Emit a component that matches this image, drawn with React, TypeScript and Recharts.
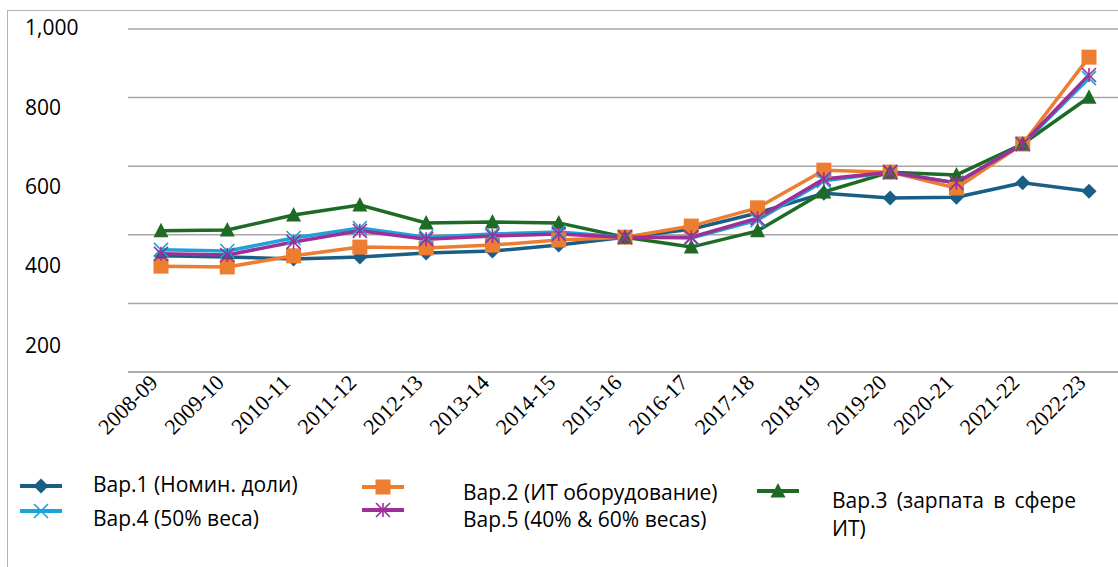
import { CartesianGrid, Line, LineChart, XAxis, YAxis } from "recharts";

const years = [
  "2008-09", "2009-10", "2010-11", "2011-12", "2012-13", "2013-14", "2014-15", "2015-16",
  "2016-17", "2017-18", "2018-19", "2019-20", "2020-21", "2021-22", "2022-23",
];
const var1 = [428, 425, 420, 425, 435, 440, 455, 475, 495, 536, 586, 574, 576, 612, 591];
const var2 = [402, 400, 428, 450, 448, 455, 468, 475, 503, 549, 644, 639, 599, 710, 929];
const var3 = [491, 493, 531, 556, 511, 513, 511, 475, 450, 491, 589, 639, 632, 710, 828];
const var4 = [443, 440, 473, 498, 475, 483, 488, 475, 473, 518, 617, 639, 612, 710, 876];
const var5 = [433, 430, 463, 491, 470, 478, 483, 475, 475, 523, 622, 639, 612, 710, 884];
const yTicks = [200, 400, 600, 800, 1000];
const gridValues = [135, 308, 481, 654, 827, 1000];

const C1 = "#1b5e85";
const C2 = "#ed7d31";
const C3 = "#1e6b25";
const C4 = "#1ca3da";
const C5 = "#9d2f97";

const rows = years.map((year, i) => ({
  year,
  v1: var1[i],
  v2: var2[i],
  v3: var3[i],
  v4: var4[i],
  v5: var5[i],
}));

const font = "'Open Sans', sans-serif";

function Diamond({ cx, cy }: any) {
  const r = 7.5;
  return <path d={`M${cx},${cy - r}L${cx + r},${cy}L${cx},${cy + r}L${cx - r},${cy}Z`} fill={C1} />;
}
function Square({ cx, cy }: any) {
  return <rect x={cx - 7.5} y={cy - 7.5} width={15} height={15} fill={C2} />;
}
function Triangle({ cx, cy }: any) {
  return <path d={`M${cx},${cy - 8}L${cx + 7.5},${cy + 6.5}L${cx - 7.5},${cy + 6.5}Z`} fill={C3} />;
}
function Cross({ cx, cy }: any) {
  const r = 7;
  return (
    <path d={`M${cx - r},${cy - r}L${cx + r},${cy + r}M${cx + r},${cy - r}L${cx - r},${cy + r}`} stroke={C4} strokeWidth={1.6} />
  );
}
function Star({ cx, cy }: any) {
  const r = 7;
  return (
    <path
      d={`M${cx - r},${cy - r}L${cx + r},${cy + r}M${cx + r},${cy - r}L${cx - r},${cy + r}M${cx},${cy - r}L${cx},${cy + r}`}
      stroke={C5}
      strokeWidth={1.6}
    />
  );
}

function YTick({ y, payload }: any) {
  return (
    <text x={25} y={y} dy="0.3em" style={{ fontFamily: font, fontSize: 21 }} fill="#000">
      {Number(payload.value).toLocaleString("en-US")}
    </text>
  );
}

function XTick({ x, y, payload }: any) {
  const tx = x - 2;
  const ty = y + 4;
  return (
    <text
      x={tx}
      y={ty}
      transform={`rotate(-45 ${tx} ${ty})`}
      textAnchor="end"
      style={{ fontFamily: "'Liberation Serif', 'Times New Roman', serif", fontSize: 22 }}
      fill="#000"
    >
      {payload.value}
    </text>
  );
}

function Icon({ color, mark }: { color: string; mark: string }) {
  const cx = 21;
  const cy = 8;
  return (
    <svg width={44} height={16} style={{ position: "absolute", overflow: "visible" }}>
      <line x1={0} y1={cy} x2={42} y2={cy} stroke={color} strokeWidth={4} />
      {mark === "d" && <Diamond cx={cx} cy={cy} />}
      {mark === "s" && <Square cx={cx} cy={cy} />}
      {mark === "t" && <Triangle cx={cx} cy={cy} />}
      {mark === "x" && <Cross cx={cx} cy={cy} />}
      {mark === "a" && <Star cx={cx} cy={cy} />}
    </svg>
  );
}

const txt: React.CSSProperties = {
  position: "absolute",
  fontFamily: font,
  fontSize: 21,
  color: "#000",
  whiteSpace: "nowrap",
  lineHeight: "28px",
};

export default function App() {
  return (
    <div style={{ position: "absolute", left: 0, top: 0, width: 1118, height: 567, overflow: "hidden", background: "#fff" }}>
      <div style={{ position: "absolute", left: 7, top: 10, width: 1300, height: 800, border: "1px solid #b4b4b4" }} />
      <div style={{ position: "absolute", left: 0, top: 0 }}>
        <LineChart width={1126} height={567} data={rows} margin={{ top: 29, right: 4, bottom: 0, left: 0 }}>
          <CartesianGrid vertical={false} horizontalValues={gridValues} stroke="#a6a6a6" strokeWidth={1.5} />
          <XAxis
            dataKey="year"
            height={195}
            interval={0}
            padding={{ left: 33, right: 33 }}
            tickLine={false}
            axisLine={{ stroke: "#a6a6a6", strokeWidth: 1.5 }}
            tick={<XTick />}
          />
          <YAxis
            width={128}
            domain={[135, 1000]}
            ticks={yTicks}
            interval={0}
            axisLine={false}
            tickLine={false}
            tick={<YTick />}
          />
          <Line dataKey="v1" stroke={C1} strokeWidth={3.5} dot={<Diamond />} activeDot={false} isAnimationActive={false} />
          <Line dataKey="v2" stroke={C2} strokeWidth={3.5} dot={<Square />} activeDot={false} isAnimationActive={false} />
          <Line dataKey="v3" stroke={C3} strokeWidth={3.5} dot={<Triangle />} activeDot={false} isAnimationActive={false} />
          <Line dataKey="v4" stroke={C4} strokeWidth={3.5} dot={<Cross />} activeDot={false} isAnimationActive={false} />
          <Line dataKey="v5" stroke={C5} strokeWidth={3.5} dot={<Star />} activeDot={false} isAnimationActive={false} />
        </LineChart>
      </div>

      {/* legend */}
      <div style={{ position: "absolute", left: 20, top: 478 }}><Icon color={C1} mark="d" /></div>
      <div style={{ position: "absolute", left: 20, top: 503 }}><Icon color={C4} mark="x" /></div>
      <div style={{ position: "absolute", left: 362, top: 479 }}><Icon color={C2} mark="s" /></div>
      <div style={{ position: "absolute", left: 362, top: 502 }}><Icon color={C5} mark="a" /></div>
      <div style={{ position: "absolute", left: 757, top: 483 }}><Icon color={C3} mark="t" /></div>
      <div style={{ ...txt, left: 93, top: 470 }}>Вар.1 (Номин. доли)</div>
      <div style={{ ...txt, left: 93, top: 504 }}>Вар.4 (50% веса)</div>
      <div style={{ ...txt, left: 463, top: 478 }}>Вар.2 (ИТ оборудование)</div>
      <div style={{ ...txt, left: 463, top: 505 }}>Вар.5 (40% &amp; 60% весаs)</div>
      <div style={{ ...txt, left: 832, top: 486, width: 244, whiteSpace: "normal", textAlign: "justify" }}>
        Вар.3 (зарпата в сфере ИТ)
      </div>
    </div>
  );
}
